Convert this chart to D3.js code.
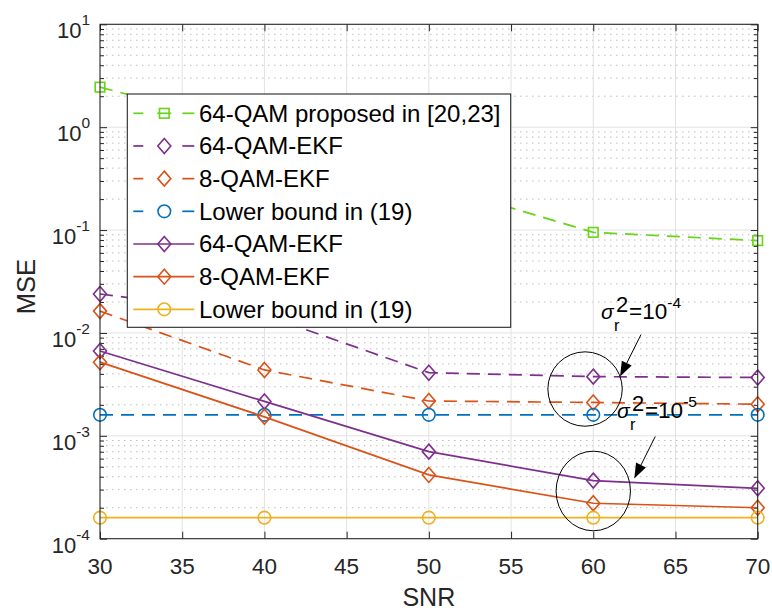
<!DOCTYPE html>
<html>
<head>
<meta charset="utf-8">
<script src="https://cdn.jsdelivr.net/npm/d3@7"></script>
<style>
  body { margin: 0; background: #fff; }
  svg { display: block; font-family: "Liberation Sans", Arial, sans-serif; }
</style>
</head>
<body>
<div id="chart"></div>
<script>
// values
var snr = [30, 40, 50, 60, 70];
var proposed64 = [2.45, 0.92, 0.285, 0.095, 0.079];
var ekf64r4 = [0.0239, 0.0149, 0.00411, 0.00376, 0.00369];
var ekf8r4 = [0.0163, 0.00437, 0.00218, 0.00211, 0.00203];
var boundR4 = [0.0016, 0.0016, 0.0016, 0.0016, 0.0016];
var ekf64r5 = [0.00668, 0.00216, 0.000702, 0.000367, 0.000309];
var ekf8r5 = [0.0052, 0.00153, 0.000417, 0.000221, 0.0002];
var boundR5 = [0.00016, 0.00016, 0.00016, 0.00016, 0.00016];

var seriesNames = ["64-QAM proposed in [20,23]", "64-QAM-EKF", "8-QAM-EKF", "Lower bound in (19)",
                   "64-QAM-EKF", "8-QAM-EKF", "Lower bound in (19)"];
var xTicks = [30, 35, 40, 45, 50, 55, 60, 65, 70];
var yDecades = [-4, -3, -2, -1, 0, 1];

// circled groups at SNR 60 and their labels
var noteSnr = [59.5, 60];
var noteMse = [0.00285, 0.000291];
var noteExp = ["-4", "-5"];

var series = [
  {y: proposed64, color: "#66d418", dash: true, marker: "square"},
  {y: ekf64r4, color: "#7E2F8E", dash: true, marker: "diamond"},
  {y: ekf8r4, color: "#D95319", dash: true, marker: "diamond"},
  {y: boundR4, color: "#0072BD", dash: true, marker: "circle"},
  {y: ekf64r5, color: "#7E2F8E", dash: false, marker: "diamond"},
  {y: ekf8r5, color: "#D95319", dash: false, marker: "diamond"},
  {y: boundR5, color: "#EDB120", dash: false, marker: "circle"}
];

var W = 772, H = 611;
var margin = {left: 100, top: 24.3, right: 14.3, bottom: 72.3};
var width = W - margin.left - margin.right;
var height = H - margin.top - margin.bottom;
var ink = "#262626";

var svg = d3.select("#chart").append("svg")
  .attr("width", W)
  .attr("height", H);

var g = svg.append("g")
  .attr("transform", "translate(" + margin.left + "," + margin.top + ")");

var x = d3.scaleLinear().domain([30, 70]).range([0, width]);
var y = d3.scaleLog().domain([1e-4, 1e1]).range([height, 0]);

var majorY = yDecades.map(function(e) { return Math.pow(10, e); });
var minorY = y.ticks().filter(function(v) {
  var l = Math.log10(v);
  return Math.abs(l - Math.round(l)) > 1e-6;
});

// minor grid (dotted)
g.append("g").selectAll("line")
  .data(minorY).enter().append("line")
  .attr("x1", 0).attr("x2", width)
  .attr("y1", function(d) { return y(d); })
  .attr("y2", function(d) { return y(d); })
  .attr("stroke", "#bdbdbd")
  .attr("stroke-width", 1)
  .attr("stroke-dasharray", "1.5,4.5");

// major grid
g.append("g").selectAll("line")
  .data(majorY.slice(1, -1)).enter().append("line")
  .attr("x1", 0).attr("x2", width)
  .attr("y1", function(d) { return y(d); })
  .attr("y2", function(d) { return y(d); })
  .attr("stroke", "#e2e2e2")
  .attr("stroke-width", 1);
g.append("g").selectAll("line")
  .data(xTicks.slice(1, -1)).enter().append("line")
  .attr("y1", 0).attr("y2", height)
  .attr("x1", function(d) { return x(d); })
  .attr("x2", function(d) { return x(d); })
  .attr("stroke", "#e2e2e2")
  .attr("stroke-width", 1);

// axes (ticks pointing inward)
function styleAxis(sel) {
  sel.select(".domain").remove();
  sel.selectAll("line").attr("stroke", ink);
  sel.selectAll("text").remove();
}
g.append("g").attr("transform", "translate(0," + height + ")")
  .call(d3.axisBottom(x).tickValues(xTicks).tickSize(-7)).call(styleAxis);
g.append("g")
  .call(d3.axisTop(x).tickValues(xTicks).tickSize(-7)).call(styleAxis);
g.append("g")
  .call(d3.axisLeft(y).tickValues(majorY).tickSize(-7)).call(styleAxis);
g.append("g")
  .call(d3.axisLeft(y).tickValues(minorY).tickSize(-4)).call(styleAxis);
g.append("g").attr("transform", "translate(" + width + ",0)")
  .call(d3.axisRight(y).tickValues(majorY).tickSize(-7)).call(styleAxis);
g.append("g").attr("transform", "translate(" + width + ",0)")
  .call(d3.axisRight(y).tickValues(minorY).tickSize(-4)).call(styleAxis);

// tick labels
g.append("g").selectAll("text")
  .data(xTicks).enter().append("text")
  .attr("x", function(d) { return x(d); })
  .attr("y", height + 35.5)
  .attr("text-anchor", "middle")
  .attr("font-size", 22.5)
  .attr("fill", ink)
  .text(function(d) { return d; });

var yl = g.append("g").selectAll("text")
  .data(yDecades).enter().append("text")
  .attr("x", -10)
  .attr("y", function(d) { return y(Math.pow(10, d)) + 14; })
  .attr("text-anchor", "end")
  .attr("font-size", 22)
  .attr("fill", ink);
yl.append("tspan").text("10");
yl.append("tspan").attr("dy", -13).attr("font-size", 15.5)
  .text(function(d) { return String(d); });

// axis titles
g.append("text")
  .attr("x", x(50))
  .attr("y", height + 67)
  .attr("text-anchor", "middle")
  .attr("font-size", 25)
  .attr("fill", ink)
  .text("SNR");
g.append("text")
  .attr("transform", "translate(" + (-65) + "," + (height / 2 + 5) + ") rotate(-90)")
  .attr("text-anchor", "middle")
  .attr("font-size", 25.5)
  .attr("fill", ink)
  .text("MSE");

// markers
function drawMarker(sel, type, color) {
  if (type === "square") {
    sel.append("rect").attr("x", -4.8).attr("y", -4.8).attr("width", 9.6).attr("height", 9.6)
      .attr("fill", "none").attr("stroke", color).attr("stroke-width", 1.6);
  } else if (type === "diamond") {
    sel.append("path").attr("d", "M0,-7.5L6.5,0L0,7.5L-6.5,0Z")
      .attr("fill", "none").attr("stroke", color).attr("stroke-width", 1.6);
  } else {
    sel.append("circle").attr("r", 6.3)
      .attr("fill", "none").attr("stroke", color).attr("stroke-width", 1.6);
  }
}

var line = d3.line()
  .x(function(d) { return x(d[0]); })
  .y(function(d) { return y(d[1]); });

series.forEach(function(s) {
  var pts = snr.map(function(v, i) { return [v, s.y[i]]; });
  g.append("path")
    .datum(pts)
    .attr("d", line)
    .attr("fill", "none")
    .attr("stroke", s.color)
    .attr("stroke-width", 1.7)
    .attr("stroke-dasharray", s.dash ? "13,8" : null);
  g.append("g").selectAll("g")
    .data(pts).enter().append("g")
    .attr("transform", function(d) { return "translate(" + x(d[0]) + "," + y(d[1]) + ")"; })
    .each(function() { drawMarker(d3.select(this), s.marker, s.color); });
});

// frame
g.append("rect")
  .attr("width", width).attr("height", height)
  .attr("fill", "none").attr("stroke", ink).attr("stroke-width", 1.1);

// annotations: circle + arrow + sigma label
var notes = g.append("g");
noteSnr.forEach(function(v, i) {
  var cx = x(v), cy = y(noteMse[i]);
  var ry = i === 0 ? 37.2 : 39.8;
  notes.append("ellipse")
    .attr("cx", cx).attr("cy", cy).attr("rx", 37.2).attr("ry", ry)
    .attr("fill", "none").attr("stroke", "#000").attr("stroke-width", 1);

  var off = i === 0 ? 0 : 6;
  var sx = cx + 56 + off, sy = cy - 54.5;
  var tx = cx + 35 + off, ty = cy - 12.5;
  var ang = Math.atan2(ty - sy, tx - sx);
  var hl = 15, hw = 5.5;
  var bx = tx - hl * Math.cos(ang), by = ty - hl * Math.sin(ang);
  notes.append("line")
    .attr("x1", sx).attr("y1", sy).attr("x2", bx).attr("y2", by)
    .attr("stroke", "#000").attr("stroke-width", 1);
  notes.append("path")
    .attr("d", "M" + tx + "," + ty +
      "L" + (bx + hw * Math.sin(ang)) + "," + (by - hw * Math.cos(ang)) +
      "L" + (bx - hw * Math.sin(ang)) + "," + (by + hw * Math.cos(ang)) + "Z")
    .attr("fill", "#000");

  var lx = cx + (i === 0 ? 16 : 23.7), ly = cy - (i === 0 ? 70.5 : 73.3);
  var t = notes.append("text").attr("x", lx).attr("y", ly).attr("fill", "#000");
  t.append("tspan").attr("font-size", 21).attr("font-style", "italic").text("σ");
  t.append("tspan").attr("x", lx + 15).attr("y", ly - 7).attr("font-size", 22).text("2");
  t.append("tspan").attr("x", lx + 13).attr("y", ly + 12.5).attr("font-size", 16.5).text("r");
  t.append("tspan").attr("x", lx + 28).attr("y", ly).attr("font-size", 22.5).text("=10");
  t.append("tspan").attr("y", ly - 11).attr("font-size", 15.5).text(noteExp[i]);
});

// legend
var leg = svg.append("g").attr("transform", "translate(127.3,94)");
leg.append("rect")
  .attr("width", 383.4).attr("height", 233.3)
  .attr("fill", "#fff").attr("stroke", ink).attr("stroke-width", 1.1);
series.forEach(function(s, i) {
  var row = leg.append("g").attr("transform", "translate(0," + (19.3 + i * 32.67) + ")");
  if (s.dash) {
    row.append("line").attr("x1", 6).attr("x2", 16).attr("stroke", s.color).attr("stroke-width", 1.7);
    row.append("line").attr("x1", 55).attr("x2", 67).attr("stroke", s.color).attr("stroke-width", 1.7);
    if (s.marker === "square") {
      row.append("line").attr("x1", 30).attr("x2", 44).attr("stroke", s.color).attr("stroke-width", 1.7);
    }
  } else {
    row.append("line").attr("x1", 6).attr("x2", 67).attr("stroke", s.color).attr("stroke-width", 1.7);
  }
  var m = row.append("g").attr("transform", "translate(37,0)");
  drawMarker(m, s.marker, s.color);
  row.append("text")
    .attr("x", 71.7).attr("y", 8.5)
    .attr("font-size", 24)
    .attr("fill", "#000")
    .text(seriesNames[i]);
});
</script>
</body>
</html>
